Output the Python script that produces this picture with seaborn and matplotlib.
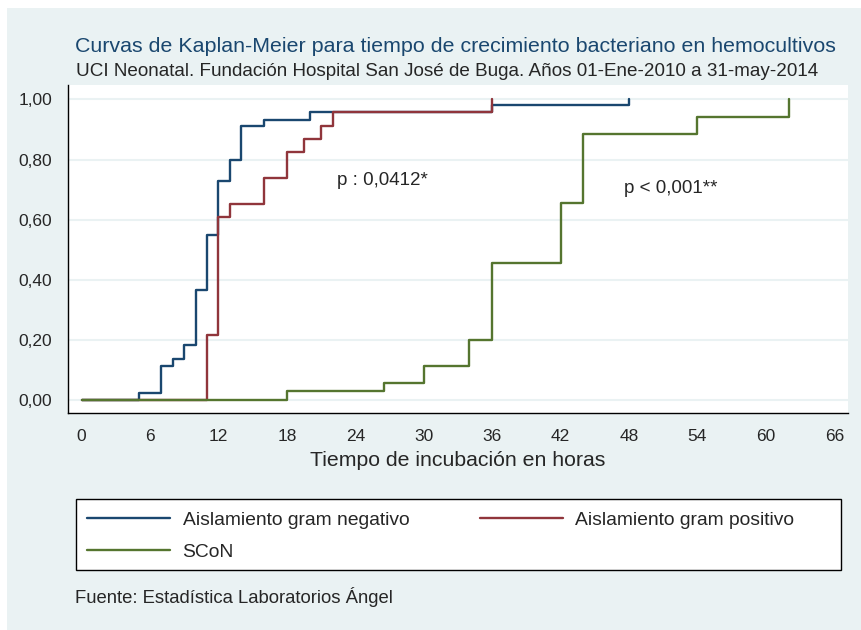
import matplotlib
matplotlib.use("Agg")
import matplotlib.pyplot as plt
import matplotlib.patches as mpatches
import pandas as pd
import seaborn as sns

# Kaplan-Meier step points (hours, cumulative proportion)
neg_t = [0, 5, 7, 8, 9, 10, 11, 12, 13, 14, 16, 20, 36, 48]
neg_s = [0, 0.022, 0.114, 0.138, 0.182, 0.366, 0.548, 0.728, 0.798, 0.911, 0.933, 0.958, 0.983, 1.0]

pos_t = [0, 11, 12, 13, 16, 18, 19.5, 21, 22, 36]
pos_s = [0, 0.217, 0.609, 0.652, 0.739, 0.826, 0.870, 0.913, 0.957, 1.0]

scon_t = [0, 18, 26.5, 30, 34, 36, 42, 44, 54, 62]
scon_s = [0, 0.029, 0.057, 0.114, 0.200, 0.457, 0.657, 0.886, 0.943, 1.0]

groups = ["Aislamiento gram negativo", "Aislamiento gram positivo", "SCoN"]
colors = ["#1a476f", "#90353b", "#55752f"]

x_ticks = list(range(0, 67, 6))
y_ticks = [0, 0.2, 0.4, 0.6, 0.8, 1.0]

BG = "#eaf2f3"

sns.set_style("white")
plt.rcParams["font.family"] = ["Liberation Sans", "DejaVu Sans"]

fig = plt.figure(figsize=(8.61, 6.3), dpi=100)
fig.patch.set_facecolor("white")
fig.patches.append(mpatches.Rectangle((7 / 861, 0), 1, 1 - 8 / 630,
                                      transform=fig.transFigure,
                                      facecolor=BG, edgecolor="none", zorder=-10))

ax = fig.add_axes([68.3 / 861, 1 - 413.3 / 630, (848 - 68.3) / 861, (413.3 - 85) / 630])
ax.set_facecolor("white")

frames = []
for name, t, s in zip(groups, [neg_t, pos_t, scon_t], [neg_s, pos_s, scon_s]):
    frames.append(pd.DataFrame({"t": t, "s": s, "grupo": name}))
df = pd.concat(frames, ignore_index=True)

for name, col in zip(groups, colors):
    sub = df[df["grupo"] == name]
    sns.lineplot(data=sub, x="t", y="s", ax=ax, color=col, lw=1.7,
                 drawstyle="steps-post", estimator=None, sort=False, label=name)

ax.set_xlim(-1.17, 67.2)
ax.set_ylim(-0.044, 1.048)
ax.set_xticks(x_ticks)
ax.set_xticklabels([str(v) for v in x_ticks], fontsize=12.5)
ax.set_yticks(y_ticks)
ax.set_yticklabels([f"{v:.2f}".replace(".", ",") for v in y_ticks], fontsize=12.5)
ax.tick_params(axis="both", direction="out", length=6.5, width=1, color="#444444", pad=5)
for y in y_ticks:
    ax.axhline(y, color=BG, lw=1.5, zorder=0)

for side in ["top", "right"]:
    ax.spines[side].set_visible(False)
for side in ["left", "bottom"]:
    ax.spines[side].set_color("black")
    ax.spines[side].set_linewidth(1)

ax.set_xlabel("Tiempo de incubación en horas", fontsize=15.3, labelpad=5)
ax.set_ylabel("")

ax.text(22.4, 0.73, "p : 0,0412*", fontsize=13.5, va="center", ha="left")
ax.text(47.6, 0.705, "p < 0,001**", fontsize=13.5, va="center", ha="left")

# titles
fig.text(455 / 861, 1 - 46 / 630, "Curvas de Kaplan-Meier para tiempo de crecimiento bacteriano en hemocultivos",
         ha="center", va="center", fontsize=15.4, color="#1a476f")
fig.text(447 / 861, 1 - 72 / 630, "UCI Neonatal. Fundación Hospital San José de Buga. Años 01-Ene-2010 a 31-may-2014",
         ha="center", va="center", fontsize=13.6)

# legend box below the plot
fig.patches.append(mpatches.Rectangle((76 / 861, 1 - 570 / 630), (841 - 76) / 861, (570 - 499) / 630,
                                      transform=fig.transFigure, facecolor="white",
                                      edgecolor="black", lw=1, zorder=-5))
ax.get_legend().remove()
h, l = ax.get_legend_handles_labels()
order = [0, 2, 1]
leg = fig.legend([h[i] for i in order], [l[i] for i in order],
                 loc="upper left", bbox_to_anchor=(87 / 861, 1 - 511 / 630),
                 ncol=2, fontsize=13.9, frameon=False,
                 handlelength=4.3, handletextpad=0.65, borderaxespad=0, borderpad=0,
                 labelspacing=0.78, columnspacing=3.65)

fig.text(75 / 861, 1 - 597 / 630, "Fuente: Estadística Laboratorios Ángel", ha="left", va="center", fontsize=13.3)

fig.savefig("out.png", dpi=100, facecolor=fig.get_facecolor())
